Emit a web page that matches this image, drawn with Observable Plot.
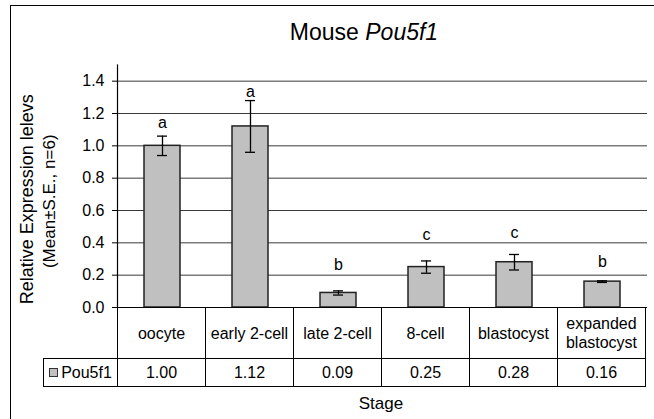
<!DOCTYPE html>
<html>
<head>
<meta charset="utf-8">
<script src="https://cdn.jsdelivr.net/npm/d3@7"></script>
<script src="https://cdn.jsdelivr.net/npm/@observablehq/plot@0.6"></script>
<style>
  html, body { margin: 0; padding: 0; background: #fff; overflow: hidden; }
  body { width: 654px; height: 419px; position: relative; font-family: "Liberation Sans", Arial, sans-serif; color: #000; }
  #frame { position: absolute; left: 10px; top: 5px; width: 700px; height: 500px; border: 1.5px solid #000; box-sizing: border-box; }
  #chart { position: absolute; left: 0; top: 0; }
  #title { position: absolute; left: 0; width: 728px; top: 18px; text-align: center; font-size: 23px; line-height: 29px; }
  table.data { position: absolute; border-collapse: collapse; font-size: 16px; table-layout: fixed; }
  table.data td { text-align: center; padding: 0; border: 1px solid #000; line-height: 19px; }
  table.data td.blank { border: none; }
  .swatch { display: inline-block; width: 7px; height: 7px; background: #c0c0c0; border: 1px solid #333; margin-right: 3px; vertical-align: 1px; }
  #stage { position: absolute; top: 394px; font-size: 17px; text-align: center; }
</style>
</head>
<body>
<div id="frame"></div>
<div id="chart"></div>
<div id="title">Mouse <i>Pou5f1</i></div>
<script>
// ---- data ----
const stages = ["oocyte", "early 2-cell", "late 2-cell", "8-cell", "blastocyst", "expanded blastocyst"];
const stageLines = [["oocyte"], ["early 2-cell"], ["late 2-cell"], ["8-cell"], ["blastocyst"], ["expanded", "blastocyst"]];
const means = [1.00, 1.12, 0.09, 0.25, 0.28, 0.16];
const meanLabels = ["1.00", "1.12", "0.09", "0.25", "0.28", "0.16"];
const se = [0.06, 0.16, 0.013, 0.038, 0.048, 0.005];
const letters = ["a", "a", "b", "c", "c", "b"];
const letterY = [1.14, 1.335, 0.265, 0.45, 0.46, 0.285];
const yTicks = [0, 0.2, 0.4, 0.6, 0.8, 1.0, 1.2, 1.4];
const seriesName = "Pou5f1";

const rows = stages.map((s, i) => ({stage: s, mean: means[i], se: se[i], letter: letters[i], ly: letterY[i]}));

const W = 654, H = 419;
const mLeft = 117, mRight = 7, mTop = 64.5, mBottom = 112;

const plot = Plot.plot({
  width: W,
  height: H,
  marginLeft: mLeft,
  marginRight: mRight,
  marginTop: mTop,
  marginBottom: mBottom,
  style: {fontFamily: "'Liberation Sans', Arial, sans-serif", fontSize: "16px", background: "transparent", color: "#000"},
  x: {domain: stages, paddingInner: 0.59, paddingOuter: 0.295, axis: null},
  y: {domain: [0, 1.5], axis: null},
  marks: [
    Plot.ruleY(yTicks.filter(d => d > 0), {stroke: "#3a3a3a", strokeWidth: 1}),
    Plot.barY(rows, {x: "stage", y: "mean", fill: "#c0c0c0", stroke: "#222", strokeWidth: 1.5}),
    Plot.ruleX(rows, {x: "stage", y1: d => d.mean - d.se, y2: d => d.mean + d.se, stroke: "#000", strokeWidth: 1.3}),
    Plot.tickY(rows, {x: "stage", y: d => d.mean + d.se, stroke: "#000", strokeWidth: 1.3, insetLeft: 13, insetRight: 13}),
    Plot.tickY(rows, {x: "stage", y: d => d.mean - d.se, stroke: "#000", strokeWidth: 1.3, insetLeft: 13, insetRight: 13}),
    Plot.text(rows, {x: "stage", y: "ly", text: "letter", fontSize: 16, lineAnchor: "middle", fill: "#000"}),
    Plot.axisY({ticks: yTicks, tickFormat: d3.format(".1f"), tickSize: 5, tickPadding: 8, fontSize: 16, label: null, stroke: "#000"}),
    Plot.frame({anchor: "left", stroke: "#000", strokeWidth: 1.2}),
    Plot.ruleY([0], {stroke: "#000", strokeWidth: 1.2}),
    Plot.text(["Relative Expression lelevs"], {frameAnchor: "left", textAnchor: "middle", lineAnchor: "middle", rotate: -90, dx: -90, dy: 13, fontSize: 18, fill: "#000"}),
    Plot.text(["(Mean±S.E., n=6)"], {frameAnchor: "left", textAnchor: "middle", lineAnchor: "middle", rotate: -90, dx: -68, dy: 15, fontSize: 17, fill: "#000"})
  ]
});
document.getElementById("chart").appendChild(plot);

// ---- table under the plot, aligned with the band scale ----
const xs = plot.scale("x");
const step = xs.step;
const x0 = xs.range[0];
const plotBottom = H - mBottom;
const legendLeft = 43;

const table = document.createElement("table");
table.className = "data";
table.style.left = legendLeft + "px";
table.style.top = plotBottom + "px";
const cg = document.createElement("colgroup");
const c0 = document.createElement("col"); c0.style.width = (x0 - legendLeft) + "px"; cg.appendChild(c0);
stages.forEach(() => { const c = document.createElement("col"); c.style.width = step + "px"; cg.appendChild(c); });
table.appendChild(cg);
table.style.width = (x0 - legendLeft + step * stages.length) + "px";

const tr1 = document.createElement("tr");
tr1.style.height = "51px";
const blank = document.createElement("td"); blank.className = "blank"; tr1.appendChild(blank);
stageLines.forEach(lines => {
  const td = document.createElement("td");
  td.innerHTML = lines.join("<br>");
  tr1.appendChild(td);
});
table.appendChild(tr1);

const tr2 = document.createElement("tr");
tr2.style.height = "28px";
const leg = document.createElement("td");
leg.innerHTML = '<span class="swatch"></span>' + seriesName;
tr2.appendChild(leg);
meanLabels.forEach(v => { const td = document.createElement("td"); td.textContent = v; tr2.appendChild(td); });
table.appendChild(tr2);
document.body.appendChild(table);

const stage = document.createElement("div");
stage.id = "stage";
stage.textContent = "Stage";
stage.style.left = x0 + "px";
stage.style.width = (step * stages.length) + "px";
document.body.appendChild(stage);
</script>
</body>
</html>
